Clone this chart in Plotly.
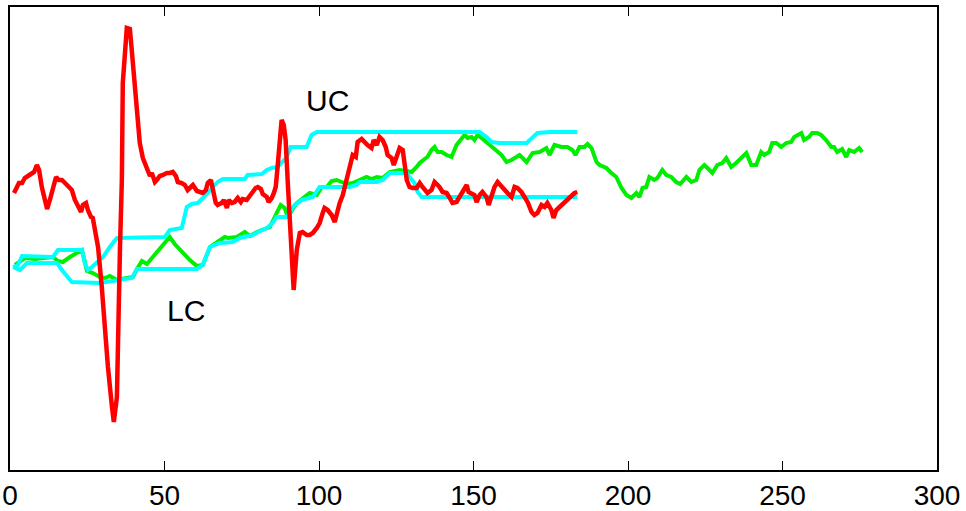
import plotly.graph_objects as go

# Red signal
red_x = [1.3, 2.3, 2.9, 3.9, 4.8, 5.8, 7.1, 7.8, 8.7, 9.4, 10.3, 11.3, 12.0, 12.9, 13.9, 14.9, 15.8, 16.8,
         17.8, 18.8, 20.0, 21.0, 22.0, 23.0, 23.6, 24.6, 25.2, 26.2, 26.8, 27.8, 28.5, 29.7, 30.7, 31.7,
         33.0, 33.6, 34.6, 34.9, 35.6, 36.2, 36.5, 37.8, 38.8, 39.4, 40.4, 41.1, 42.0, 43.0, 43.6, 44.6,
         45.3, 45.9, 46.9, 47.5, 48.5, 49.5, 50.8, 51.7, 52.7, 53.7, 54.3, 55.6, 56.6, 57.5, 58.5, 59.2,
         60.5, 61.4, 62.4, 63.4, 64.0, 65.0, 65.6, 66.6, 67.2, 68.5, 69.2, 70.2, 70.8, 71.8, 72.7, 73.7,
         74.7, 75.3, 76.6, 77.3, 78.6, 79.5, 80.2, 81.2, 81.8, 83.1, 83.7, 84.7, 85.4, 86.0, 86.6, 87.3,
         87.9, 88.6, 89.2, 89.9, 90.5, 91.2, 91.8, 92.8, 93.8, 94.7, 96.0, 97.0, 98.0, 99.3, 100.2, 101.2,
         101.8, 102.8, 104.1, 105.1, 105.7, 106.7, 107.7, 109.0, 109.9, 110.9, 111.9, 112.5, 113.8, 114.8,
         115.7, 117.0, 117.7, 118.7, 119.6, 120.6, 121.6, 122.2, 123.5, 124.2, 125.1, 126.1, 127.1, 127.7,
         128.4, 129.3, 130.3, 131.6, 132.6, 133.5, 134.2, 135.1, 136.4, 137.4, 138.4, 139.0, 140.0, 141.3,
         142.3, 143.2, 144.5, 145.5, 146.5, 147.8, 148.4, 149.4, 150.3, 151.0, 152.0, 152.9, 154.2, 154.9,
         155.8, 156.8, 157.8, 159.1, 160.0, 161.0, 162.3, 163.3, 164.2, 165.5, 166.5, 167.5, 168.8, 169.7,
         170.7, 172.0, 173.0, 173.9, 175.2, 175.9, 176.8, 178.5, 179.4, 180.4, 181.7, 182.7, 183.6]
red_y = [277, 283, 287, 287, 292, 294, 297, 298, 305, 300, 283, 270, 261, 270, 282, 293, 290, 290,
         287, 283, 280, 270, 263, 258, 265, 267, 260, 253, 252, 237, 223, 183, 140, 103,
         63, 48, 73, 140, 223, 290, 387, 442, 441, 420, 383, 353, 327, 312, 307, 297,
         294, 297, 288, 290, 294, 295, 297, 297, 298, 294, 288, 287, 285, 280, 283, 285,
         279, 278, 277, 280, 287, 290, 280, 267, 265, 267, 270, 262, 270, 267, 268, 272,
         268, 271, 270, 273, 277, 282, 283, 281, 276, 273, 268, 272, 277, 283, 303, 337,
         350, 345, 330, 287, 253, 210, 180, 220, 237, 238, 235, 235, 237, 242, 247, 257,
         262, 260, 255, 248, 257, 267, 275, 293, 303, 315, 313, 328, 331, 327,
         325, 322, 330, 325, 333, 330, 323, 315, 312, 305, 313, 322, 320, 303,
         290, 283, 282, 282, 287, 283, 280, 277, 280, 288, 285, 283, 278, 277,
         272, 267, 268, 273, 277, 285, 278, 277, 275, 268, 275, 278, 273, 265,
         273, 283, 288, 283, 280, 277, 273, 283, 282, 278, 273, 268, 258, 255,
         257, 265, 263, 267, 260, 252, 260, 265, 267, 270, 273, 277, 278]

# Upper cyan envelope (UC)
uc_x = [1.0, 2.6, 3.9, 11.3, 13.9, 15.5, 23.3, 24.2, 25.2, 26.5, 28.1, 30.1, 32.3, 34.6, 50.1, 51.7,
        55.6, 56.6, 57.2, 58.8, 60.8, 62.4, 64.0, 65.6, 67.2, 68.9, 76.0, 76.9, 81.5, 83.1, 84.7, 86.6,
        87.9, 89.6, 90.8, 96.0, 97.6, 99.3, 152.0, 154.2, 155.8, 158.4, 167.2, 168.8, 170.7, 174.6, 183.6]
uc_y = [203, 205, 214, 213, 213, 220, 220, 207, 200, 203, 207, 213, 223, 232, 233, 240,
        242, 253, 263, 266, 267, 272, 277, 283, 288, 291, 291, 295, 296, 300, 302, 303,
        307, 313, 323, 323, 335, 338, 338, 333, 328, 327, 327, 332, 337, 338, 338]

# Lower cyan envelope (LC)
lc_x = [1.0, 3.2, 5.5, 15.2, 16.8, 20.0, 29.1, 35.6, 39.4, 41.1, 60.5, 62.4, 64.7, 67.9, 72.1, 74.4,
        78.6, 80.2, 83.1, 85.0, 86.3, 89.6, 90.5, 92.1, 94.4, 98.0, 100.2, 109.9, 112.2, 113.2, 118.7,
        120.6, 122.9, 128.4, 129.3, 130.9, 131.9, 133.2, 183.6]
lc_y = [203, 200, 207, 207, 200, 188, 187, 190, 192, 201, 201, 205, 223, 227, 228, 232,
        235, 238, 242, 247, 253, 253, 257, 265, 270, 273, 283, 283, 285, 288, 288,
        290, 297, 297, 293, 287, 278, 273, 273]

# Green signal
green_x = [1.6, 4.8, 8.1, 12.0, 13.9, 15.5, 17.1, 19.4, 21.7, 23.3, 24.9, 26.8, 29.1, 30.7, 32.3, 34.6,
           37.8, 39.8, 41.1, 42.7, 44.3, 45.9, 47.5, 49.5, 51.7, 53.3, 55.9, 58.2, 60.5, 62.4, 64.7,
           69.5, 70.5, 73.4, 76.0, 77.6, 79.9, 83.1, 84.1, 86.3, 87.6, 88.9, 89.9, 92.8, 94.7, 97.0,
           99.3, 100.9, 102.5, 104.1, 105.7, 107.3, 109.0, 110.9, 113.2, 115.4, 117.0, 118.7, 120.6,
           122.9, 126.1, 128.7, 130.0, 131.6, 132.6, 134.2, 135.1, 136.4, 137.4, 138.4, 139.7, 141.3,
           142.9, 144.5, 146.1, 147.1, 148.1, 149.4, 150.3, 151.3, 152.6, 154.2, 155.8, 157.5, 159.1,
           160.7, 162.3, 164.9, 167.2, 169.1, 171.4, 173.6, 174.6, 176.2, 178.5, 180.4, 182.0, 183.0,
           184.3, 185.9, 186.9, 188.2, 189.8, 190.8, 193.0, 194.6, 196.2, 197.9, 199.5, 201.1, 202.7,
           203.7, 204.7, 205.9, 206.9, 208.5, 209.5, 211.1, 212.4, 214.0, 215.6, 216.9, 218.9, 220.5,
           222.1, 223.1, 224.7, 225.7, 227.3, 228.9, 230.5, 231.8, 233.4, 235.0, 236.7, 238.3, 239.9,
           241.5, 243.1, 244.1, 245.7, 246.7, 248.0, 249.6, 251.2, 252.8, 253.8, 256.1, 257.0, 258.6,
           259.6, 261.2, 262.5, 264.1, 265.8, 266.7, 267.7, 269.3, 270.6, 271.6, 273.2, 274.8, 275.8]
green_y = [205, 212, 211, 212, 213, 209, 208, 213, 217, 220, 199, 197, 193, 192, 194, 190,
           192, 193, 201, 209, 206, 212, 218, 224, 233, 226, 217, 210, 204, 205, 223,
           233, 232, 233, 238, 234, 238, 242, 243, 257, 265, 262, 253, 267, 272, 277,
           275, 283, 283, 289, 290, 288, 286, 287, 290, 293, 291, 293, 292,
           298, 300, 298, 298, 303, 307, 311, 313, 320, 323, 318, 318, 315,
           313, 325, 332, 335, 332, 333, 330, 335, 332, 328, 324, 320, 315,
           308, 310, 315, 308, 317, 318, 322, 315, 325, 323, 323, 320, 315,
           323, 323, 326, 322, 308, 305, 302, 297, 293, 282, 275, 272, 277,
           273, 282, 283, 293, 290, 292, 300, 295, 293, 288, 286, 293, 288,
           290, 300, 305, 302, 297, 305, 307, 312, 303, 307, 312, 317, 305,
           305, 318, 315, 318, 327, 327, 323, 327, 328, 333, 337, 330, 333,
           337, 337, 335, 330, 323, 323, 318, 321, 313, 320, 318, 322, 318]

x_ticks = [0, 50, 100, 150, 200, 250, 300]
labels = [("UC", 102.8, 370), ("LC", 56.9, 160)]

fig = go.Figure()
fig.add_trace(go.Scatter(x=green_x, y=green_y, mode="lines",
                         line=dict(color="#00ee00", width=4), showlegend=False))
fig.add_trace(go.Scatter(x=uc_x, y=uc_y, mode="lines",
                         line=dict(color="#00ffff", width=4), showlegend=False))
fig.add_trace(go.Scatter(x=lc_x, y=lc_y, mode="lines",
                         line=dict(color="#00ffff", width=4), showlegend=False))
fig.add_trace(go.Scatter(x=red_x, y=red_y, mode="lines",
                         line=dict(color="#ff0000", width=4.5), showlegend=False))

for txt, lx, ly in labels:
    fig.add_annotation(x=lx, y=ly, text=txt, showarrow=False,
                       font=dict(family="Liberation Sans, Arial", size=30, color="black"))

fig.update_layout(
    width=966, height=511,
    margin=dict(l=10, r=29, t=7, b=41, autoexpand=False),
    paper_bgcolor="white", plot_bgcolor="white",
    font=dict(family="Liberation Sans, Arial", size=22, color="black"),
)
fig.update_xaxes(range=[0, 300], tickvals=x_ticks, ticks="inside", ticklen=9, tickwidth=1,
                 tickcolor="black", showline=True, linecolor="black", linewidth=1.5,
                 mirror="ticks", showgrid=False, zeroline=False, automargin=False,
                 ticklabelstandoff=0,
                 tickfont=dict(family="Liberation Sans, Arial", size=28, color="black"))
fig.update_yaxes(range=[0, 463], showticklabels=False, ticks="", showline=True,
                 linecolor="black", linewidth=1.5, mirror=True, showgrid=False, zeroline=False,
                 automargin=False)

fig.write_html("out.html")
